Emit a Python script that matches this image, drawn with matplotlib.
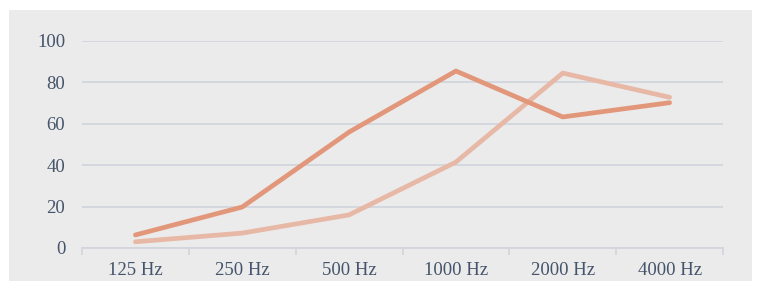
import matplotlib
matplotlib.use("Agg")
import matplotlib.pyplot as plt
from matplotlib.patches import Rectangle

categories = ["125 Hz", "250 Hz", "500 Hz", "1000 Hz", "2000 Hz", "4000 Hz"]
series_dark = [6.3, 19.8, 56, 85.5, 63.3, 70.2]
series_light = [3, 7.2, 16, 41.5, 84.5, 72.8]
yticks = [0, 20, 40, 60, 80, 100]

BG = "#ebebeb"
GRID = "#d2d5dc"
TEXT = "#44546a"

plt.rcParams["font.family"] = ["Liberation Serif", "DejaVu Serif"]

fig = plt.figure(figsize=(7.63, 2.91), dpi=100)
fig.patch.set_facecolor("white")
fig.add_artist(Rectangle((9 / 763, 1 - 281 / 291), 743 / 763, 271 / 291,
                         transform=fig.transFigure, facecolor=BG,
                         edgecolor="none", zorder=-1))

ax = fig.add_axes([82 / 763, 1 - 248 / 291, 641 / 763, 207 / 291])
ax.set_zorder(1)
ax.set_facecolor(BG)

x = list(range(len(categories)))
ax.plot(x, series_light, color="#e8b8a6", lw=3.4, solid_capstyle="round", zorder=3)
ax.plot(x, series_dark, color="#e2967a", lw=3.4, solid_capstyle="round", zorder=4)

ax.set_xlim(-0.5, len(categories) - 0.5)
ax.set_ylim(0, 100)
ax.set_yticks(yticks)
ax.set_xticks(x)
ax.set_xticklabels(categories)
ax.set_xticks([i - 0.5 for i in range(len(categories) + 1)], minor=True)
ax.tick_params(axis="x", which="major", length=0, pad=10, labelsize=13.5, colors=TEXT)
ax.tick_params(axis="x", which="minor", length=5, width=1.2, color=GRID, direction="out")
ax.tick_params(axis="y", length=0, pad=12, labelsize=13.5, colors=TEXT)

ax.grid(axis="y", color=GRID, lw=1.3)
ax.set_axisbelow(True)
for s in ["top", "right", "left"]:
    ax.spines[s].set_visible(False)
ax.spines["bottom"].set_color(GRID)
ax.spines["bottom"].set_linewidth(1.3)

fig.savefig("out.png", dpi=100, facecolor="white")
